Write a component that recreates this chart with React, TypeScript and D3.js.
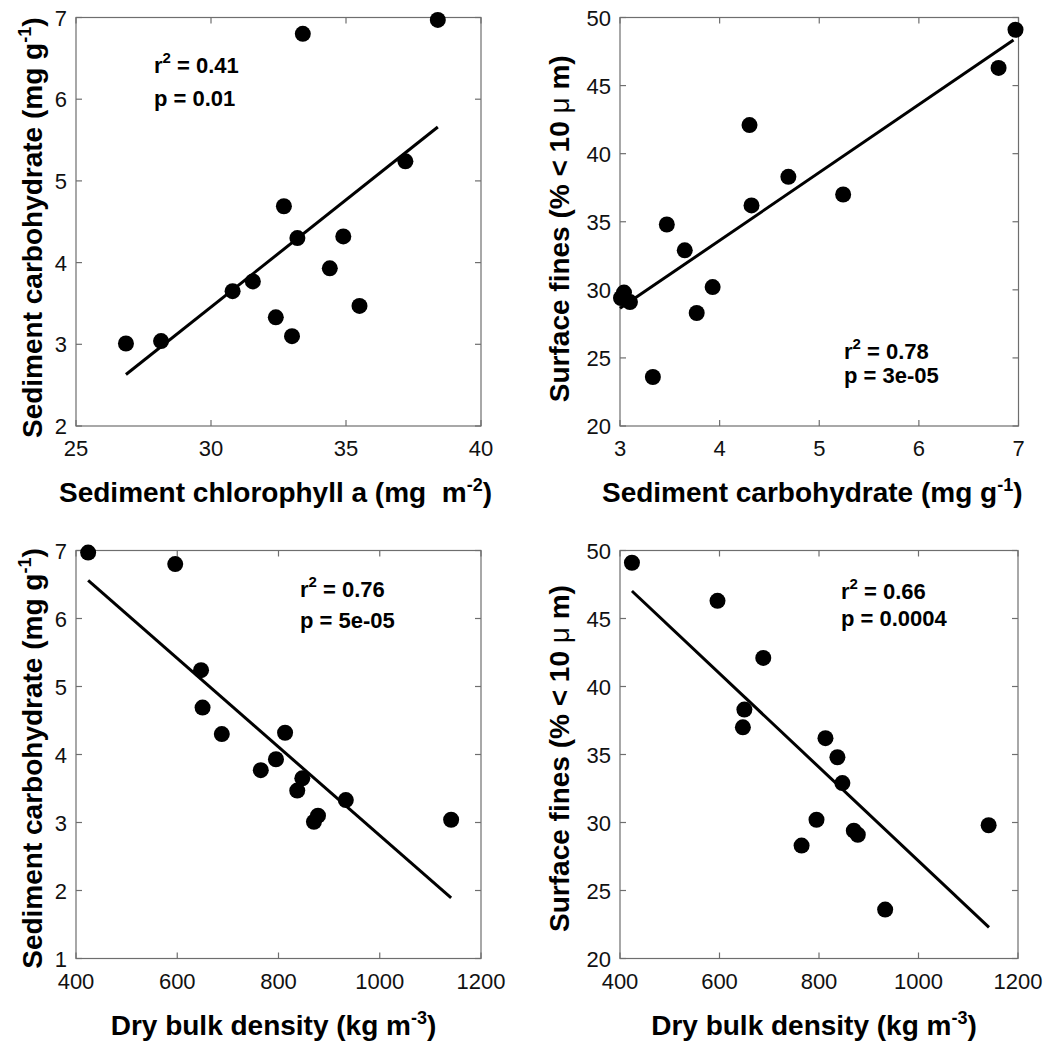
import React from "react";
import * as d3 from "d3";

// Site data (one entry per site, same order in every array)
const chlorophyll = [38.4, 33.4, 37.2, 32.7, 33.2, 34.9, 34.4, 31.55, 30.8, 35.5, 32.4, 33.0, 28.15, 26.85];
const carbohydrate = [6.97, 6.8, 5.24, 4.69, 4.3, 4.32, 3.93, 3.77, 3.65, 3.47, 3.33, 3.1, 3.04, 3.01];
const density = [424, 596, 647, 650, 688, 813, 795, 765, 847, 837, 933, 878, 1141, 870];
const fines = [49.1, 46.3, 37.0, 38.3, 42.1, 36.2, 30.2, 28.3, 32.9, 34.8, 23.6, 29.1, 29.8, 29.4];

// Regression line end points [x0, x1], [y0, y1]
const fit1X = [26.85, 38.4];
const fit1Y = [2.63, 5.66];
const fit2X = [3.0, 6.95];
const fit2Y = [28.64, 48.34];
const fit3X = [424, 1141];
const fit3Y = [6.56, 1.89];
const fit4X = [424, 1141.7];
const fit4Y = [47.02, 22.29];

// Tick values
const chlTicks = [25, 30, 35, 40];
const carbTicksY1 = [2, 3, 4, 5, 6, 7];
const carbTicksX = [3, 4, 5, 6, 7];
const finesTicks = [20, 25, 30, 35, 40, 45, 50];
const densityTicks = [400, 600, 800, 1000, 1200];
const carbTicksY3 = [1, 2, 3, 4, 5, 6, 7];

// Stats text
const stats1 = ["0.41", "0.01"];
const stats2 = ["0.78", "3e-05"];
const stats3 = ["0.76", "5e-05"];
const stats4 = ["0.66", "0.0004"];

const FONT = "'Liberation Sans', Arial, Helvetica, sans-serif";

type Label = { main: string; sup?: string; tail?: string; mu?: boolean };

const carbLabel: Label = { main: "Sediment carbohydrate (mg g", sup: "-1", tail: ")" };
const chlLabel: Label = { main: "Sediment chlorophyll a (mg\u00a0\u00a0m", sup: "-2", tail: ")" };
const finesLabel: Label = { main: "Surface fines (% < 10", mu: true, tail: " m)" };
const densLabel: Label = { main: "Dry bulk density (kg m", sup: "-3", tail: ")" };

function LabelText({ l }: { l: Label }) {
  if (l.mu) {
    return (
      <>
        <tspan>{l.main}</tspan>
        <tspan fontWeight="normal">{"\u00a0\u03bc"}</tspan>
        <tspan>{l.tail}</tspan>
      </>
    );
  }
  return (
    <>
      <tspan>{l.main}</tspan>
      <tspan fontSize={18} dy={-11}>{l.sup}</tspan>
      <tspan dy={11}>{l.tail}</tspan>
    </>
  );
}

type PanelProps = {
  left: number; right: number; top: number; bottom: number;
  xDom: number[]; yDom: number[]; xTicks: number[]; yTicks: number[];
  xs: number[]; ys: number[]; fx: number[]; fy: number[];
  xLabel: Label; yLabel: Label; xLabelDx: number; yLabelDy: number; yLabelX: number;
  stats: string[]; statX: number; statY1: number; statY2: number;
};

function Panel(p: PanelProps) {
  const x = d3.scaleLinear().domain(p.xDom).range([p.left, p.right]);
  const y = d3.scaleLinear().domain(p.yDom).range([p.bottom, p.top]);
  const tl = 6;
  const line = d3.line<number>().x((_, i) => x(p.fx[i])).y((_, i) => y(p.fy[i]));
  const frame = "#6e6e6e";
  return (
    <g>
      <rect x={p.left} y={p.top} width={p.right - p.left} height={p.bottom - p.top} fill="none" stroke={frame} strokeWidth={1.2} />
      {p.xTicks.map((t) => (
        <g key={"x" + t}>
          <line x1={x(t)} x2={x(t)} y1={p.bottom} y2={p.bottom - tl} stroke={frame} strokeWidth={1.2} />
          <line x1={x(t)} x2={x(t)} y1={p.top} y2={p.top + tl} stroke={frame} strokeWidth={1.2} />
          <text x={x(t)} y={p.bottom + 30} textAnchor="middle" fontSize={22} fontFamily={FONT} fill="#111">{t}</text>
        </g>
      ))}
      {p.yTicks.map((t) => (
        <g key={"y" + t}>
          <line x1={p.left} x2={p.left + tl} y1={y(t)} y2={y(t)} stroke={frame} strokeWidth={1.2} />
          <line x1={p.right} x2={p.right - tl} y1={y(t)} y2={y(t)} stroke={frame} strokeWidth={1.2} />
          <text x={p.left - 9} y={y(t) + 8} textAnchor="end" fontSize={22} fontFamily={FONT} fill="#111">{t}</text>
        </g>
      ))}
      <path d={line(p.fx) || ""} fill="none" stroke="#000" strokeWidth={3} />
      {p.xs.map((v, i) => (
        <circle key={i} cx={x(v)} cy={y(p.ys[i])} r={8} fill="#000" />
      ))}
      <text x={(p.left + p.right) / 2 + p.xLabelDx} y={p.bottom + 76} textAnchor="middle" fontSize={28} fontWeight="bold" fontFamily={FONT} fill="#000">
        <LabelText l={p.xLabel} />
      </text>
      <text transform={`translate(${p.yLabelX},${(p.top + p.bottom) / 2 + p.yLabelDy}) rotate(-90)`} textAnchor="middle" fontSize={28} fontWeight="bold" fontFamily={FONT} fill="#000">
        <LabelText l={p.yLabel} />
      </text>
      <text x={p.statX} y={p.statY1} fontSize={22} fontWeight="bold" fontFamily={FONT} fill="#000">
        <tspan>r</tspan>
        <tspan fontSize={15} dy={-10}>2</tspan>
        <tspan dy={10}>{" = " + p.stats[0]}</tspan>
      </text>
      <text x={p.statX} y={p.statY2} fontSize={22} fontWeight="bold" fontFamily={FONT} fill="#000">
        {"p = " + p.stats[1]}
      </text>
    </g>
  );
}

export default function App() {
  return (
    <svg width={1052} height={1043} style={{ position: "absolute", left: 0, top: 0, background: "#fff" }}>
      <rect x={0} y={0} width={1052} height={1043} fill="#fff" />
      <Panel left={76} right={481} top={17.5} bottom={426} xDom={[25, 40]} yDom={[2, 7]}
        xTicks={chlTicks} yTicks={carbTicksY1} xs={chlorophyll} ys={carbohydrate} fx={fit1X} fy={fit1Y}
        xLabel={chlLabel} yLabel={carbLabel} xLabelDx={-3} yLabelDy={6} yLabelX={42}
        stats={stats1} statX={154} statY1={73} statY2={106} />
      <Panel left={620} right={1018.5} top={17.5} bottom={426} xDom={[3, 7]} yDom={[20, 50]}
        xTicks={carbTicksX} yTicks={finesTicks} xs={carbohydrate} ys={fines} fx={fit2X} fy={fit2Y}
        xLabel={carbLabel} yLabel={finesLabel} xLabelDx={-7} yLabelDy={7} yLabelX={569}
        stats={stats2} statX={844} statY1={359} statY2={383} />
      <Panel left={76} right={481} top={550.5} bottom={958.5} xDom={[400, 1200]} yDom={[1, 7]}
        xTicks={densityTicks} yTicks={carbTicksY3} xs={density} ys={carbohydrate} fx={fit3X} fy={fit3Y}
        xLabel={densLabel} yLabel={carbLabel} xLabelDx={-5} yLabelDy={4} yLabelX={42}
        stats={stats3} statX={300} statY1={597} statY2={628} />
      <Panel left={620} right={1018} top={550.5} bottom={958.5} xDom={[400, 1200]} yDom={[20, 50]}
        xTicks={densityTicks} yTicks={finesTicks} xs={density} ys={fines} fx={fit4X} fy={fit4Y}
        xLabel={densLabel} yLabel={finesLabel} xLabelDx={-5} yLabelDy={4} yLabelX={569}
        stats={stats4} statX={841} statY1={599} statY2={626} />
    </svg>
  );
}
